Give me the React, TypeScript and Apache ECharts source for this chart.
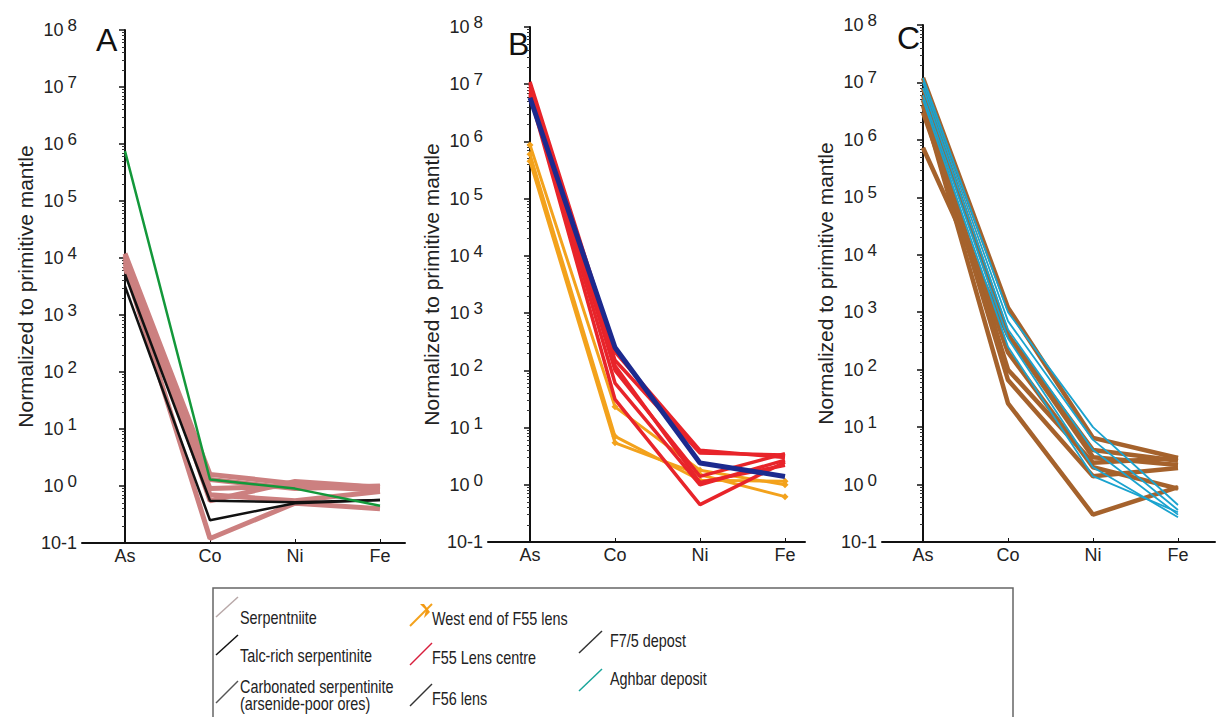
import React, { useEffect, useRef } from "react";
import * as echarts from "echarts";

const elements = ["As", "Co", "Ni", "Fe"];
const yTickExponents = [-1, 0, 1, 2, 3, 4, 5, 6, 7, 8];

// Panel A
const serpentiniteA = [
  [1.2e4, 1.6, 1.1, 0.95],
  [1.0e4, 1.3, 0.9, 1.0],
  [9e3, 0.9, 1.0, 0.85],
  [8e3, 0.7, 0.55, 0.8],
  [7e3, 0.12, 0.5, 0.4],
  [1.1e4, 0.55, 1.2, 0.95],
];
const talcRichA = [
  [5.2e3, 0.55, 0.52, 0.57],
  [3.2e3, 0.25, 0.5, 0.57],
];
const carbonatedA = [[7.5e5, 1.3, 0.9, 0.45]];

// Panel B
const westEndF55 = [
  [8.7e5, 23, 1.8, 1.0],
  [4.5e5, 5.4, 1.5, 0.62],
  [6e5, 7, 1.2, 1.15],
];
const f55Centre = [
  [1.1e7, 210, 4.0, 3.0],
  [9e6, 150, 3.6, 3.3],
  [8e6, 100, 1.4, 3.5],
  [7e6, 60, 1.0, 2.7],
  [6.5e6, 31, 0.45, 2.5],
  [1e7, 120, 1.1, 2.2],
];
const f56Lens = [[5.8e6, 250, 2.4, 1.4]];

// Panel C
const f75Deposit = [
  [1.2e7, 1200, 6.5, 2.9],
  [8e6, 400, 4, 2.6],
  [6e6, 100, 2.4, 2.9],
  [5e6, 66, 1.4, 1.95],
  [4e6, 26, 0.3, 0.9],
  [7.3e5, 400, 3, 2.2],
  [3e6, 200, 2.0, 0.85],
];
const aghbarDeposit = [
  [1.2e7, 1000, 10, 0.44],
  [1e7, 700, 6, 0.36],
  [8e6, 500, 4, 0.3],
  [6e6, 350, 2.0, 0.27],
  [5e6, 250, 1.4, 0.33],
];

const legendCol1 = ["Serpentniite", "Talc-rich serpentinite", "Carbonated serpentinite\n(arsenide-poor ores)"];
const legendCol2 = ["West end of F55 lens", "F55 Lens centre", "F56 lens"];
const legendCol3 = ["F7/5 depost", "Aghbar deposit"];
const panelLetters = ["A", "B", "C"];
const yAxisTitle = "Normalized to primitive mantle";

const FONT = "Liberation Sans, Arial, sans-serif";

export default function App() {
  const ref = useRef<HTMLDivElement>(null);

  useEffect(() => {
    document.body.style.margin = "0";
    const chart = echarts.init(ref.current!, null, { renderer: "svg" });

    const grids = [
      { left: 82, top: 30, width: 323, height: 513, xmin: -43 / 85 },
      { left: 488, top: 27, width: 317, height: 515, xmin: -42 / 85 },
      { left: 882, top: 25, width: 333, height: 517, xmin: -41 / 85 },
    ];

    const xAxes = grids.map((g, i) => ({
      type: "value",
      gridIndex: i,
      min: g.xmin,
      max: g.xmin + g.width / 85,
      splitLine: { show: false },
      axisLine: { show: true, lineStyle: { color: "#111", width: 2 } },
      axisTick: { show: true, inside: true, length: 4, customValues: [0, 1, 2, 3], lineStyle: { color: "#111" } },
      axisLabel: {
        customValues: [0, 1, 2, 3],
        formatter: (v: number) => elements[Math.round(v)] ?? "",
        fontSize: 18,
        fontFamily: FONT,
        color: "#222",
        margin: 4,
      },
    }));

    const yAxes = grids.map((g, i) => ({
      type: "log",
      logBase: 10,
      gridIndex: i,
      min: 0.1,
      max: 1e8,
      splitLine: { show: false },
      axisLine: { show: true, lineStyle: { color: "#111", width: 2 } },
      axisTick: { show: true, length: 6, lineStyle: { color: "#111", width: 1.5 } },
      minorTick: { show: true, splitNumber: 9, length: 3, lineStyle: { color: "#333" } },
      name: yAxisTitle,
      nameLocation: "middle",
      nameGap: 46,
      nameTextStyle: { fontSize: 21, fontFamily: FONT, color: "#222" },
      axisLabel: {
        margin: 5,
        formatter: (v: number) => {
          const e = Math.round(Math.log10(v));
          if (!yTickExponents.includes(e)) return "";
          return e < 0 ? `{b|10${e}}` : `{b|10}{e|${e}}`;
        },
        rich: {
          b: { fontSize: 18, fontFamily: FONT, color: "#222" },
          e: { fontSize: 17, fontFamily: FONT, color: "#222", padding: [0, 0, 9, 4] },
        },
      },
    }));

    const series: any[] = [];
    const addGroup = (rows: number[][], idx: number, color: string, width: number, symbol = "none", z = 2) => {
      rows.forEach((r) => {
        series.push({
          type: "line",
          xAxisIndex: idx,
          yAxisIndex: idx,
          data: r.map((v, k) => [k, v]),
          symbol,
          symbolSize: 7,
          showSymbol: symbol !== "none",
          itemStyle: { color },
          lineStyle: { color, width },
          z,
          silent: true,
        });
      });
    };
    addGroup(serpentiniteA, 0, "#cc8080", 5, "none", 2);
    addGroup(talcRichA, 0, "#111111", 2.5, "none", 3);
    addGroup(carbonatedA, 0, "#13983a", 2.5, "none", 4);
    addGroup(westEndF55, 1, "#f3a21c", 3, "diamond", 2);
    addGroup(f55Centre, 1, "#e8242a", 3.5, "none", 3);
    addGroup(f56Lens, 1, "#1c2a8e", 5, "none", 4);
    addGroup(f75Deposit, 2, "#a5622c", 4.5, "none", 2);
    addGroup(aghbarDeposit, 2, "#1aa3cf", 1.8, "none", 3);

    const graphic: any[] = [];
    const letterPos = [
      [96, 24],
      [508, 28],
      [897, 22],
    ];
    panelLetters.forEach((t, i) => {
      graphic.push({
        type: "text",
        x: letterPos[i][0],
        y: letterPos[i][1],
        style: { text: t, fontSize: 32, fontFamily: FONT, fill: "#111" },
      });
    });
    // legend box
    graphic.push({
      type: "rect",
      shape: { x: 213, y: 588, width: 800, height: 140 },
      style: { fill: "none", stroke: "#666", lineWidth: 1.5 },
    });
    const icon = (x1: number, y1: number, x2: number, y2: number, color: string, w = 1.5) => ({
      type: "line",
      shape: { x1, y1, x2, y2 },
      style: { stroke: color, lineWidth: w },
    });
    const txt = (x: number, y: number, text: string) => ({
      type: "text",
      x,
      y,
      scaleX: 0.8,
      style: { text, fontSize: 18, fontFamily: FONT, fill: "#222", textVerticalAlign: "middle", lineHeight: 17 },
    });
    const col1Colors = ["#b8a8a8", "#111", "#555"];
    const col1Y = [617, 655, 695];
    legendCol1.forEach((t, i) => {
      const y = col1Y[i];
      graphic.push(icon(216, y + (i === 2 ? 8 : 0), 238, y - (i === 2 ? 14 : 20), col1Colors[i]));
      graphic.push(txt(240, y, t));
    });
    const col2Colors = ["#f3a21c", "#d81e3c", "#333"];
    const col2Y = [618, 657, 698];
    legendCol2.forEach((t, i) => {
      const y = col2Y[i];
      graphic.push(icon(410, y + 8, 432, y - 14, col2Colors[i], i === 0 ? 2 : 1.5));
      if (i === 0) {
        graphic.push({
          type: "polygon",
          shape: { points: [[420, 604], [426, 610], [424, 618], [430, 612], [424, 604]] },
          style: { fill: "#f39a14" },
        });
      }
      graphic.push(txt(432, y, t));
    });
    const col3Colors = ["#333", "#1aa59a"];
    const col3Y = [640, 678];
    legendCol3.forEach((t, i) => {
      const y = col3Y[i];
      graphic.push(icon(579, y + 13, 602, y - 9, col3Colors[i]));
      graphic.push(txt(610, y, t));
    });

    chart.setOption({
      animation: false,
      backgroundColor: "#fff",
      grid: grids.map((g) => ({ left: g.left, top: g.top, width: g.width, height: g.height })),
      xAxis: xAxes,
      yAxis: yAxes,
      series,
      graphic,
    });
    return () => chart.dispose();
  }, []);

  return <div ref={ref} style={{ width: 1220, height: 717 }} />;
}
